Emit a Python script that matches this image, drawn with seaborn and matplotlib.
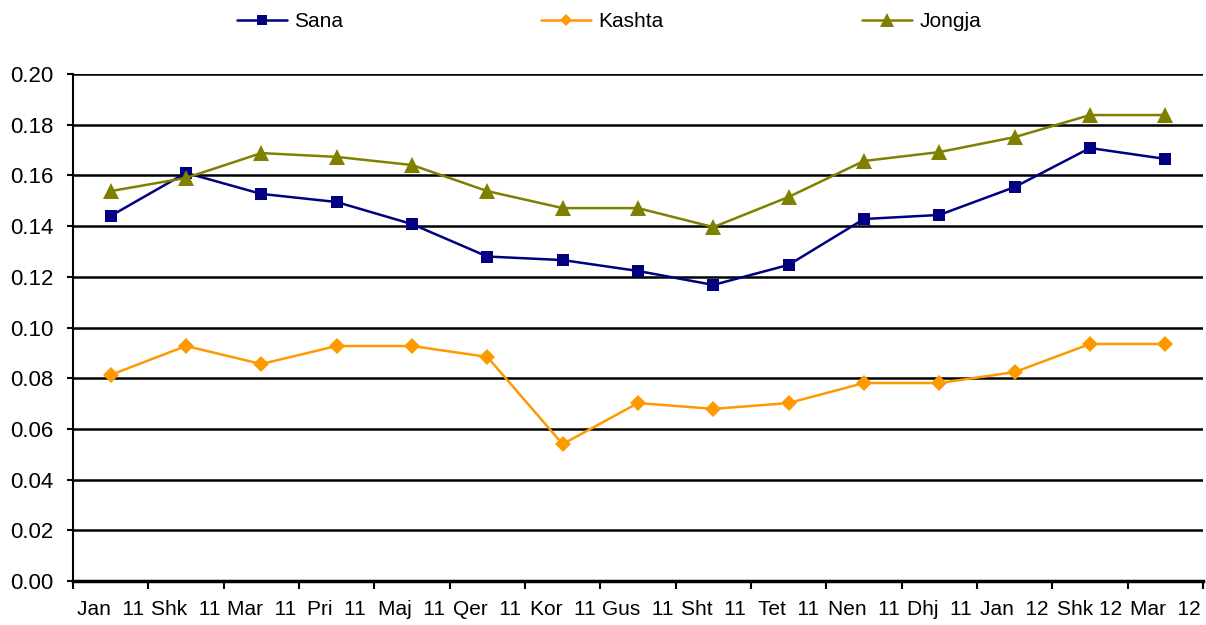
import numpy as np
import pandas as pd
import seaborn as sns
import matplotlib.pyplot as plt
from matplotlib.ticker import FixedLocator, NullFormatter

months = ["Jan  11", "Shk  11", "Mar  11", "Pri  11", "Maj  11", "Qer  11", "Kor  11", "Gus  11",
          "Sht  11", "Tet  11", "Nen  11", "Dhj  11", "Jan  12", "Shk 12", "Mar  12"]
sana = [0.144, 0.161, 0.1527, 0.1495, 0.1408, 0.128, 0.1266, 0.1223,
        0.1168, 0.1247, 0.1428, 0.1444, 0.1554, 0.1708, 0.1665]
kashta = [0.0813, 0.0927, 0.0856, 0.0927, 0.0927, 0.0884, 0.054, 0.0702,
          0.0679, 0.0702, 0.0781, 0.0781, 0.0824, 0.0935, 0.0935]
jongja = [0.1538, 0.159, 0.1688, 0.1673, 0.1641, 0.1538, 0.1471, 0.1471,
          0.1396, 0.1515, 0.1657, 0.1692, 0.1751, 0.1838, 0.1838]

df = pd.DataFrame({"pos": list(range(len(months))) * 3,
                   "value": sana + kashta + jongja,
                   "series": ["Sana"] * 15 + ["Kashta"] * 15 + ["Jongja"] * 15})

sns.set_theme(style="white")
plt.rcParams['font.family'] = ['Liberation Sans', 'DejaVu Sans']
plt.rcParams['text.color'] = 'black'
plt.rcParams['xtick.color'] = 'black'
plt.rcParams['ytick.color'] = 'black'

fig = plt.figure(figsize=(12.06, 6.25), dpi=100)
ax = fig.add_axes([0.0605, 0.0704, 0.937, 0.8112])

palette = {"Sana": "#000080", "Kashta": "#FF9900", "Jongja": "#808000"}
markers = {"Sana": "s", "Kashta": "D", "Jongja": "^"}
sns.lineplot(data=df, x="pos", y="value", hue="series", style="series",
             palette=palette, markers=markers, dashes=False, markersize=9,
             markeredgewidth=0, linewidth=1.8, ax=ax, zorder=3)
# tweak marker sizes per series
for line in ax.lines:
    m = line.get_marker()
    if m == "^":
        line.set_markersize(12)
    elif m == "D":
        line.set_markersize(8)

ax.set_xlim(-0.5, 14.5)
ax.set_ylim(0, 0.2)
ax.set_yticks(np.arange(0, 0.201, 0.02))
ax.set_yticklabels([f"{v:.2f}" for v in np.arange(0, 0.201, 0.02)], fontsize=16)
ax.yaxis.grid(True, color="black", linewidth=1.8)
ax.set_axisbelow(True)

ax.xaxis.set_major_locator(FixedLocator(np.arange(-0.5, 15, 1)))
ax.xaxis.set_major_formatter(NullFormatter())
ax.xaxis.set_minor_locator(FixedLocator(np.arange(0, 15, 1)))
ax.set_xticklabels(months, minor=True, fontsize=15)
ax.tick_params(axis="x", which="major", length=6, width=1.5, color="black", direction="out", bottom=True)
ax.tick_params(axis="x", which="minor", length=0, pad=14, bottom=True, labelcolor="black")
ax.tick_params(axis="y", length=4, width=1.5, color="black", direction="out", left=True, pad=10,
               labelcolor="black")

for s in ["top", "right"]:
    ax.spines[s].set_visible(False)
ax.spines["left"].set_color("black")
ax.spines["left"].set_linewidth(1.5)
ax.spines["bottom"].set_color("black")
ax.spines["bottom"].set_linewidth(2.5)
ax.set_xlabel("")
ax.set_ylabel("")

handles, labels = ax.get_legend_handles_labels()
ax.get_legend().remove()
fig.legend(handles, labels, loc="upper center", bbox_to_anchor=(0.505, 1.01), ncol=3,
           frameon=False, fontsize=15, columnspacing=9.5, handlelength=2.4,
           handletextpad=0.35, markerscale=0.8)

fig.savefig("out.png", dpi=100)
